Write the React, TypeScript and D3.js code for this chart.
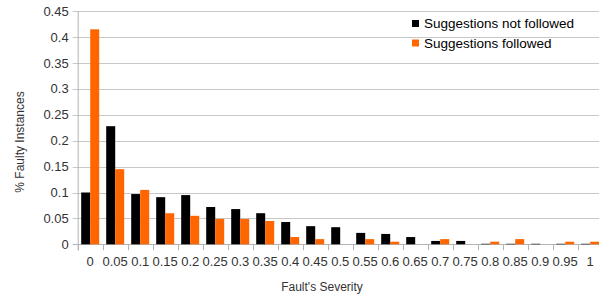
import * as d3 from 'd3';

const categories = ['0', '0.05', '0.1', '0.15', '0.2', '0.25', '0.3', '0.35', '0.4', '0.45', '0.5',
  '0.55', '0.6', '0.65', '0.7', '0.75', '0.8', '0.85', '0.9', '0.95', '1'];

const notFollowed = [0.1, 0.228, 0.097, 0.091, 0.095, 0.072, 0.068, 0.06, 0.043, 0.035, 0.033,
  0.022, 0.02, 0.014, 0.0065, 0.0065, 0.001, 0.001, 0.001, 0.001, 0.001];

const followed = [0.415, 0.145, 0.105, 0.06, 0.055, 0.049, 0.049, 0.045, 0.014, 0.01, 0,
  0.01, 0.005, 0, 0.01, 0, 0.005, 0.01, 0, 0.005, 0.005];

const yTicks = [0, 0.05, 0.1, 0.15, 0.2, 0.25, 0.3, 0.35, 0.4, 0.45];

const SERIES = [
  { key: 'notFollowed', label: 'Suggestions not followed', color: '#000000', values: notFollowed },
  { key: 'followed', label: 'Suggestions followed', color: '#ff6600', values: followed },
];

const W = 599;
const H = 300;
const FONT = '"Liberation Sans", Arial, sans-serif';

export default function App() {
  const x = d3.scaleBand().domain(categories).range([77.7, 602.7]).padding(0);
  const inner = d3.scaleBand().domain(SERIES.map(s => s.key)).range([3.5, 21.5]).padding(0);
  const y = d3.scaleLinear().domain([0, 0.45]).range([244.3, 11.2]);
  const x0 = 77.7;

  return (
    <svg width={W} height={H} style={{ position: 'absolute', left: 0, top: 0, background: '#fff' }}
      fontFamily={FONT}>
      {/* grid */}
      {yTicks.map(t => (
        <g key={t}>
          <line x1={x0 - 5} x2={W} y1={Math.round(y(t)) + 0.5} y2={Math.round(y(t)) + 0.5}
            stroke={t === 0 ? '#b3b3b3' : '#c8c8c8'} />
          <text x={x0 - 9} y={y(t)} dy="0.35em" textAnchor="end" fontSize={13} fill="#333">
            {d3.format('~g')(t)}
          </text>
        </g>
      ))}
      <line x1={x0 + 0.5} x2={x0 + 0.5} y1={y(0.45)} y2={y(0) + 6} stroke="#b3b3b3" />

      {/* bars */}
      {SERIES.map(s => s.values.map((v, i) => (
        <rect key={s.key + i}
          x={(x(categories[i]) ?? 0) + (inner(s.key) ?? 0)}
          width={inner.bandwidth()}
          y={y(v)}
          height={y(0) - y(v)}
          fill={s.color} />
      )))}

      {/* x ticks */}
      {categories.map(c => (
        <g key={c}>
          <line x1={Math.round(x(c) ?? 0) + 0.5} x2={Math.round(x(c) ?? 0) + 0.5}
            y1={y(0)} y2={y(0) + 6} stroke="#b3b3b3" />
          <text x={(x(c) ?? 0) + x.bandwidth() / 2} y={266} textAnchor="middle" fontSize={13} fill="#333">
            {c}
          </text>
        </g>
      ))}

      {/* axis titles */}
      <text x={322} y={291} textAnchor="middle" fontSize={12} fill="#333">Fault's Severity</text>
      <text transform="translate(24,142) rotate(-90)" textAnchor="middle" fontSize={12} fill="#333">
        % Faulty Instances
      </text>

      {/* legend */}
      {SERIES.map((s, i) => (
        <g key={s.key} transform={`translate(412,${20 + i * 19.5})`}>
          <rect x={0} y={0} width={7} height={7} fill={s.color} />
          <text x={12} y={3.5} dy="0.35em" fontSize={13.5} fill="#000">{s.label}</text>
        </g>
      ))}
    </svg>
  );
}
